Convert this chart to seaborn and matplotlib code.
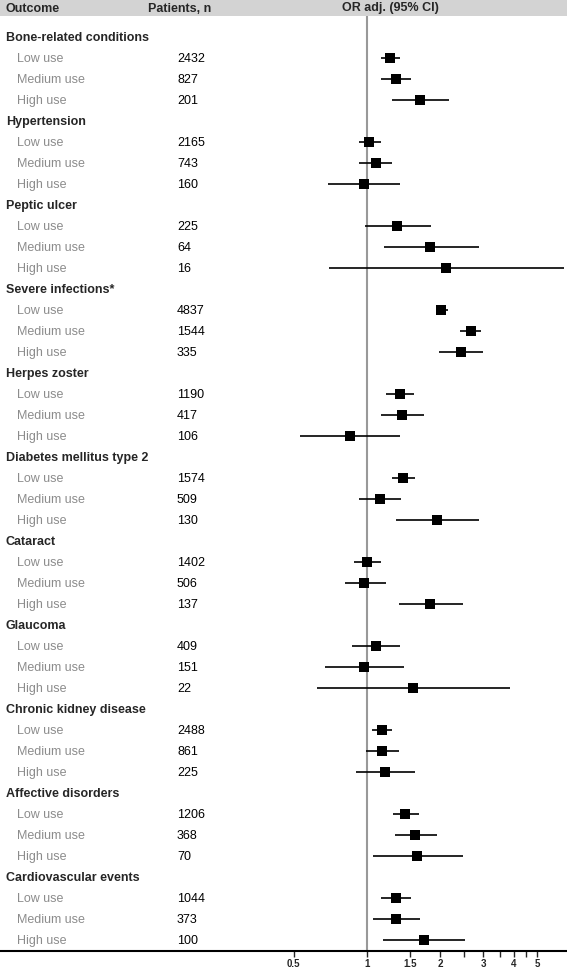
import matplotlib
matplotlib.use("Agg")
import matplotlib.pyplot as plt
import matplotlib.transforms as mtransforms
from matplotlib.patches import Rectangle
import numpy as np
import pandas as pd
import seaborn as sns

# --- data ------------------------------------------------------------------
outcomes = [
    "Bone-related conditions", "Hypertension", "Peptic ulcer",
    "Severe infections*", "Herpes zoster", "Diabetes mellitus type 2",
    "Cataract", "Glaucoma", "Chronic kidney disease", "Affective disorders",
    "Cardiovascular events",
]
use_levels = ["Low use", "Medium use", "High use"]

patients = [
    [2432, 827, 201], [2165, 743, 160], [225, 64, 16], [4837, 1544, 335],
    [1190, 417, 106], [1574, 509, 130], [1402, 506, 137], [409, 151, 22],
    [2488, 861, 225], [1206, 368, 70], [1044, 373, 100],
]
or_adj = [
    [1.24, 1.31, 1.65], [1.02, 1.09, 0.97], [1.33, 1.82, 2.11],
    [2.01, 2.66, 2.43], [1.36, 1.39, 0.85], [1.40, 1.13, 1.94],
    [1.00, 0.97, 1.82], [1.09, 0.97, 1.54], [1.15, 1.15, 1.18],
    [1.43, 1.58, 1.61], [1.31, 1.32, 1.71],
]
ci_low = [
    [1.14, 1.14, 1.27], [0.93, 0.93, 0.69], [0.98, 1.17, 0.70],
    [1.91, 2.41, 1.98], [1.20, 1.14, 0.53], [1.27, 0.93, 1.32],
    [0.88, 0.81, 1.35], [0.87, 0.67, 0.62], [1.05, 0.99, 0.90],
    [1.28, 1.30, 1.06], [1.14, 1.06, 1.16],
]
ci_high = [
    [1.36, 1.52, 2.16], [1.14, 1.27, 1.36], [1.83, 2.87, 6.45],
    [2.15, 2.94, 2.98], [1.56, 1.71, 1.36], [1.58, 1.38, 2.88],
    [1.14, 1.20, 2.47], [1.36, 1.42, 3.88], [1.27, 1.35, 1.58],
    [1.64, 1.94, 2.47], [1.52, 1.65, 2.53],
]
tick_values = [0.5, 1, 1.5, 2, 2.5, 3, 3.5, 4, 4.5, 5]
tick_labels = ["0.5", "1", "1.5", "2", "", "3", "", "4", "", "5"]

# --- tidy frame: one row per outcome x use level ----------------------------
records = []
for g, name in enumerate(outcomes):
    for k, lvl in enumerate(use_levels):
        records.append({
            "outcome": name, "level": lvl, "row": 4 * g + k + 1,
            "n": patients[g][k], "or": or_adj[g][k],
            "lo": ci_low[g][k], "hi": ci_high[g][k],
        })
df = pd.DataFrame(records)

sns.set_style("white")
plt.rcParams["font.family"] = ["Liberation Sans", "DejaVu Sans"]

W, H = 567, 970
AX_TOP, AX_BOT = 17, 952
fig = plt.figure(figsize=(W / 100, H / 100), dpi=100)
ax = fig.add_axes([0, 1 - AX_BOT / H, 1, (AX_BOT - AX_TOP) / H])

ax.set_xscale("log")
ax.set_xlim(0.0311, 6.62)
# row r sits at 38 + 21*r px from the top
ax.set_ylim((AX_BOT - 38) / 21, (AX_TOP - 38) / 21)

ax.axvline(1, color="#999999", lw=1.5, zorder=1)
ax.hlines(df["row"], df["lo"], df["hi"], color="black", lw=1.2, zorder=2)
sns.scatterplot(data=df, x="or", y="row", marker="s", s=42, color="black",
                edgecolor="black", linewidth=0, ax=ax, zorder=3, legend=False)

ax.set_xticks(tick_values)
ax.set_xticklabels(tick_labels, fontsize=7, fontweight="bold")
ax.xaxis.set_minor_locator(matplotlib.ticker.NullLocator())
ax.tick_params(axis="x", direction="out", length=4, width=1, pad=1, bottom=True)
ax.set_yticks([])
ax.set_xlabel("")
ax.set_ylabel("")
for side in ["top", "right", "left"]:
    ax.spines[side].set_visible(False)
ax.spines["bottom"].set_linewidth(1.5)
ax.spines["bottom"].set_color("black")

# --- text columns -----------------------------------------------------------
tr = mtransforms.blended_transform_factory(ax.transAxes, ax.transData)
for g, name in enumerate(outcomes):
    ax.text(6 / W, 4 * g, name, transform=tr, fontsize=9, fontweight="bold",
            va="center", ha="left")
for _, r in df.iterrows():
    ax.text(17 / W, r["row"], r["level"], transform=tr, fontsize=9,
            color="#8c8c8c", va="center", ha="left")
    ax.text(177 / W, r["row"], f"{r['n']}", transform=tr, fontsize=9,
            color="black", va="center", ha="left")

# --- header band ------------------------------------------------------------
fig.patches.append(Rectangle((0, 1 - 17 / H), 1, 17 / H, transform=fig.transFigure,
                             facecolor="#d3d3d3", edgecolor="none", zorder=0))
hy = 1 - 8.5 / H
fig.text(6 / W, hy, "Outcome", fontsize=9, fontweight="bold", va="center")
fig.text(148 / W, hy, "Patients, n", fontsize=9, fontweight="bold", va="center")
fig.text(342 / W, hy, "OR adj. (95% CI)", fontsize=9, fontweight="bold", va="center")

fig.savefig("out.png", dpi=100)
